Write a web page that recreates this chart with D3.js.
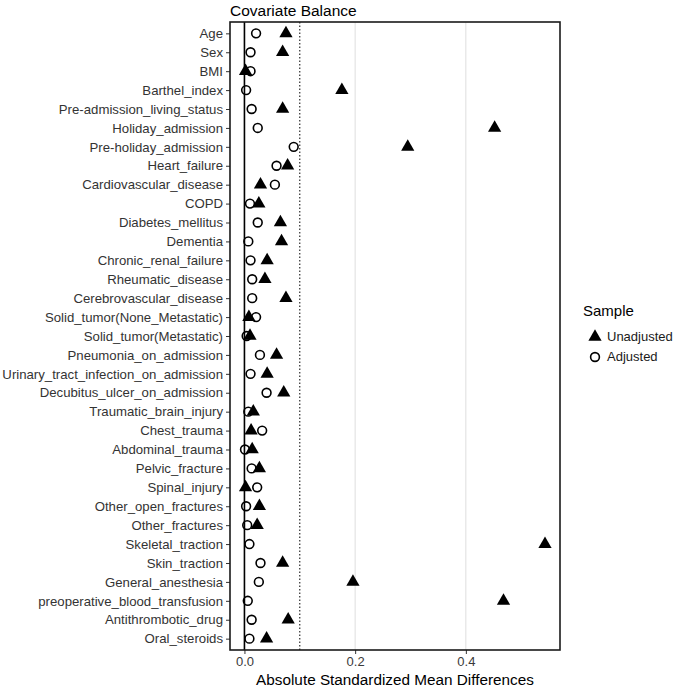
<!DOCTYPE html>
<html>
<head>
<meta charset="utf-8">
<script src="https://d3js.org/d3.v7.min.js"></script>
<style>
  body { margin: 0; background: #fff; }
  text { font-family: "Liberation Sans", Arial, sans-serif; }
</style>
</head>
<body>
<div id="chart"></div>
<script>
var covariates = ["Age", "Sex", "BMI", "Barthel_index", "Pre-admission_living_status",
    "Holiday_admission", "Pre-holiday_admission", "Heart_failure", "Cardiovascular_disease",
    "COPD", "Diabetes_mellitus", "Dementia", "Chronic_renal_failure", "Rheumatic_disease",
    "Cerebrovascular_disease", "Solid_tumor(None_Metastatic)", "Solid_tumor(Metastatic)",
    "Pneumonia_on_admission", "Urinary_tract_infection_on_admission", "Decubitus_ulcer_on_admission",
    "Traumatic_brain_injury", "Chest_trauma", "Abdominal_trauma", "Pelvic_fracture",
    "Spinal_injury", "Other_open_fractures", "Other_fractures", "Skeletal_traction",
    "Skin_traction", "General_anesthesia", "preoperative_blood_transfusion",
    "Antithrombotic_drug", "Oral_steroids"];

var unadjusted = [0.075, 0.069, 0.002, 0.176, 0.069, 0.452, 0.295, 0.078, 0.029,
    0.026, 0.065, 0.067, 0.041, 0.037, 0.075, 0.008, 0.010, 0.058, 0.041, 0.071,
    0.016, 0.012, 0.014, 0.027, 0.002, 0.027, 0.023, 0.543, 0.069, 0.196, 0.468,
    0.079, 0.040];

var adjusted = [0.021, 0.011, 0.011, 0.003, 0.013, 0.024, 0.089, 0.058, 0.055,
    0.010, 0.024, 0.007, 0.011, 0.014, 0.014, 0.021, 0.004, 0.028, 0.011, 0.040,
    0.007, 0.032, 0.001, 0.013, 0.023, 0.003, 0.005, 0.009, 0.029, 0.026, 0.006,
    0.013, 0.009];

var xTicks = [0, 0.2, 0.4];
var threshold = 0.1;
var samples = ["Unadjusted", "Adjusted"];

var W = 685, H = 688;
var pLeft = 230, pRight = 560, pTop = 22, pBottom = 650;

var svg = d3.select("#chart")
    .append("svg")
    .attr("width", W)
    .attr("height", H);

// x scale with ggplot-like 5% expansion
var all = unadjusted.concat(adjusted);
var lo = d3.min(all), hi = d3.max(all), pad = (hi - lo) * 0.05;
var x = d3.scaleLinear()
    .domain([lo - pad, hi + pad])
    .range([pLeft, pRight]);

var y = d3.scalePoint()
    .domain(covariates)
    .range([pTop, pBottom])
    .padding(0.6);

// grid lines
svg.append("g")
    .selectAll("line")
    .data(xTicks)
    .enter()
    .append("line")
    .attr("x1", function (d) { return x(d); })
    .attr("x2", function (d) { return x(d); })
    .attr("y1", pTop)
    .attr("y2", pBottom)
    .attr("stroke", "#dedede")
    .attr("stroke-width", 1);

// zero line and threshold
svg.append("line")
    .attr("x1", x(0)).attr("x2", x(0))
    .attr("y1", pTop).attr("y2", pBottom)
    .attr("stroke", "#000")
    .attr("stroke-width", 1.6);

svg.append("line")
    .attr("x1", x(threshold)).attr("x2", x(threshold))
    .attr("y1", pTop).attr("y2", pBottom)
    .attr("stroke", "#000")
    .attr("stroke-width", 1)
    .attr("stroke-dasharray", "1.5,2");

// Add X axis
var xAxis = svg.append("g")
    .attr("transform", "translate(0," + pBottom + ")")
    .call(d3.axisBottom(x).tickValues(xTicks).tickFormat(d3.format(".1f")).tickSize(4).tickPadding(3));
xAxis.select(".domain").remove();
xAxis.selectAll("line").attr("stroke", "#333");
xAxis.selectAll("text")
    .attr("fill", "#3a3a3a")
    .style("font-size", "13px");

// Add Y axis
var yAxis = svg.append("g")
    .attr("transform", "translate(" + pLeft + ",0)")
    .call(d3.axisLeft(y).tickSize(4).tickPadding(3));
yAxis.select(".domain").remove();
yAxis.selectAll("line").attr("stroke", "#333");
yAxis.selectAll("text")
    .attr("fill", "#333")
    .style("font-size", "13.2px");

// points
var rows = covariates.map(function (c, i) {
    return {name: c, un: unadjusted[i], adj: adjusted[i]};
});

svg.append("g")
    .selectAll("circle")
    .data(rows)
    .enter()
    .append("circle")
    .attr("cx", function (d) { return x(d.adj); })
    .attr("cy", function (d) { return y(d.name); })
    .attr("r", 4.4)
    .attr("fill", "none")
    .attr("stroke", "#000")
    .attr("stroke-width", 1.6);

var tri = d3.symbol().type(d3.symbolTriangle).size(76);
svg.append("g")
    .selectAll("path")
    .data(rows)
    .enter()
    .append("path")
    .attr("d", tri)
    .attr("transform", function (d) { return "translate(" + x(d.un) + "," + y(d.name) + ")"; })
    .attr("fill", "#000");

// panel border
svg.append("rect")
    .attr("x", pLeft)
    .attr("y", pTop)
    .attr("width", pRight - pLeft)
    .attr("height", pBottom - pTop)
    .attr("fill", "none")
    .attr("stroke", "#1a1a1a")
    .attr("stroke-width", 1.6);

// title and axis title
svg.append("text")
    .attr("x", pLeft)
    .attr("y", 16)
    .style("font-size", "15.5px")
    .attr("fill", "#000")
    .text("Covariate Balance");

svg.append("text")
    .attr("x", (pLeft + pRight) / 2)
    .attr("y", 685)
    .attr("text-anchor", "middle")
    .style("font-size", "15.3px")
    .attr("fill", "#000")
    .text("Absolute Standardized Mean Differences");

// legend
var lg = svg.append("g").attr("transform", "translate(583,0)");
lg.append("text")
    .attr("x", 0)
    .attr("y", 316)
    .style("font-size", "15px")
    .text("Sample");

lg.selectAll(".item")
    .data(samples)
    .enter()
    .append("text")
    .attr("x", 24)
    .attr("y", function (d, i) { return 341 + i * 20; })
    .style("font-size", "13px")
    .attr("fill", "#1a1a1a")
    .text(function (d) { return d; });

lg.append("path")
    .attr("d", tri)
    .attr("transform", "translate(12,337)")
    .attr("fill", "#000");

lg.append("circle")
    .attr("cx", 12)
    .attr("cy", 357)
    .attr("r", 4.4)
    .attr("fill", "none")
    .attr("stroke", "#000")
    .attr("stroke-width", 1.6);
</script>
</body>
</html>
